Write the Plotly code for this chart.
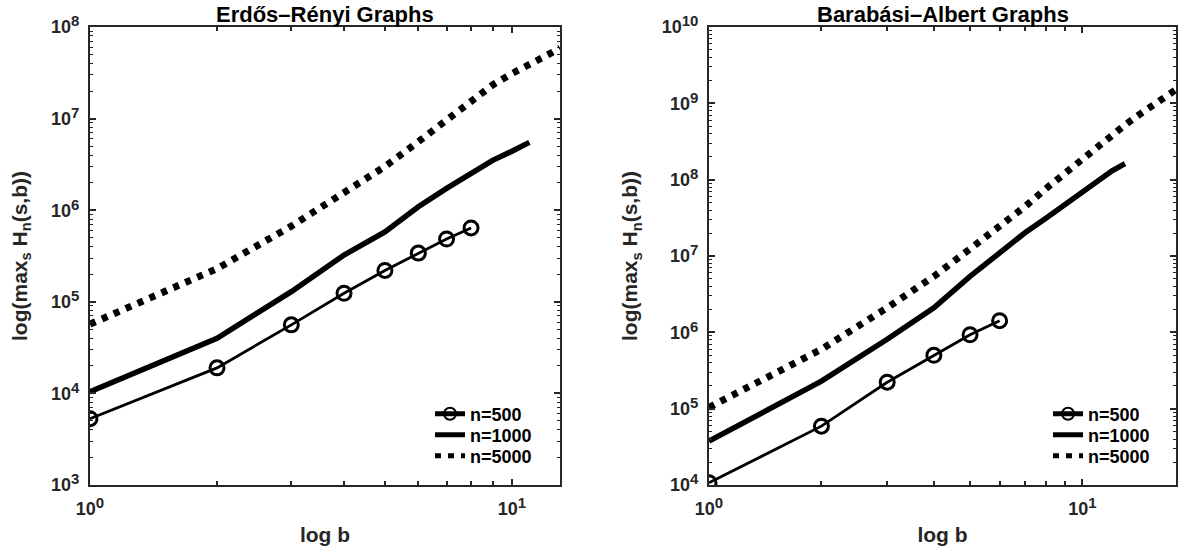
import math
import plotly.graph_objects as go

# ---------------- data ----------------
# Erdős–Rényi
b_er_500 = [1, 2, 3, 4, 5, 6, 7, 8]
h_er_500 = [5.3e3, 1.9e4, 5.6e4, 1.24e5, 2.2e5, 3.4e5, 4.85e5, 6.4e5]
b_er_1000 = [1, 2, 3, 4, 5, 6, 7, 8, 9, 10, 11]
h_er_1000 = [1.04e4, 4.0e4, 1.29e5, 3.24e5, 5.8e5, 1.09e6, 1.73e6, 2.48e6, 3.5e6, 4.4e6, 5.5e6]
b_er_5000 = [1, 2, 3, 4, 5, 6, 7, 8, 9, 10, 11, 12, 13]
h_er_5000 = [5.7e4, 2.3e5, 6.7e5, 1.53e6, 3.0e6, 5.6e6, 9.7e6, 1.56e7, 2.33e7, 3.1e7,
             4.0e7, 4.8e7, 5.9e7]

# Barabási–Albert
b_ba_500 = [1, 2, 3, 4, 5, 6]
h_ba_500 = [1.07e4, 5.9e4, 2.22e5, 5.0e5, 9.3e5, 1.42e6]
b_ba_1000 = [1, 2, 3, 4, 5, 6, 7, 8, 9, 10, 11, 12, 13]
h_ba_1000 = [3.75e4, 2.3e5, 8.1e5, 2.1e6, 5.4e6, 1.12e7, 2.0e7, 3.15e7, 4.8e7, 7.0e7,
             1.0e8, 1.31e8, 1.62e8]
b_ba_5000 = [1, 2, 3, 4, 5, 6, 7, 8, 9, 10, 11, 12, 13, 14, 15, 16, 17, 18]
h_ba_5000 = [1.04e5, 6.0e5, 2.1e6, 5.4e6, 1.24e7, 2.44e7, 4.4e7, 7.7e7, 1.24e8, 1.9e8,
             2.76e8, 3.85e8, 5.2e8, 6.8e8, 8.7e8, 1.07e9, 1.32e9, 1.57e9]

series_names = ["<b>n=500</b>", "<b>n=1000</b>", "<b>n=5000</b>"]
titles = ["Erdős–Rényi Graphs", "Barabási–Albert Graphs"]
x_label = "log b"
y_label = "log(max<sub>s</sub> H<sub>n</sub>(s,b))"

W, H = 1178, 558
FONT = "Liberation Sans, Arial, Helvetica, sans-serif"
AX = "#262626"

fig = go.Figure()


def add_panel(xa, ya, legs, b500, h500, b1000, h1000, b5000, h5000):
    fig.add_trace(go.Scatter(
        x=b500, y=h500, name=series_names[0], mode="lines+markers", showlegend=True,
        line=dict(color="black", width=2.8),
        marker=dict(symbol="circle-open", size=14, color="black", line=dict(width=3)),
        xaxis=xa, yaxis=ya, legend=legs[0]))
    fig.add_trace(go.Scatter(
        x=b1000, y=h1000, name=series_names[1], mode="lines", showlegend=True,
        line=dict(color="black", width=5.5),
        xaxis=xa, yaxis=ya, legend=legs[1]))
    fig.add_trace(go.Scatter(
        x=b5000, y=h5000, name=series_names[2], mode="lines", showlegend=True,
        line=dict(color="black", width=7, dash="6px,7px"),
        xaxis=xa, yaxis=ya, legend=legs[2]))


add_panel("x", "y", ["legend", "legend2", "legend3"],
          b_er_500, h_er_500, b_er_1000, h_er_1000, b_er_5000, h_er_5000)
add_panel("x2", "y2", ["legend4", "legend5", "legend6"],
          b_ba_500, h_ba_500, b_ba_1000, h_ba_1000, b_ba_5000, h_ba_5000)

tickfont = dict(family=FONT, size=18, color=AX)
labelfont = dict(family=FONT, size=21, color=AX)


def pow_label(k):
    return "<b>10<span style='font-size:15px;baseline-shift:45%'>" + str(k) + "</span></b>"


def minor_vals(lo, hi):
    return [m * 10 ** k for k in range(lo, hi) for m in range(2, 10)]


def xaxis_cfg(domain, xmax, anchor):
    return dict(
        type="log", domain=domain, range=[0, math.log10(xmax)], automargin=False,
        anchor=anchor, showgrid=False, zeroline=False,
        showline=True, linecolor=AX, linewidth=2, mirror="allticks",
        ticks="inside", ticklen=6, tickwidth=1.5, tickcolor=AX,
        tickvals=[1, 10], ticktext=[pow_label(0), pow_label(1)],
        tickfont=tickfont, ticklabelstandoff=6,
        minor=dict(ticks="inside", ticklen=4, tickwidth=1.5, tickcolor=AX,
                   tickvals=minor_vals(0, 2), showgrid=False),
        title=dict(text="<b>" + x_label + "</b>", font=labelfont, standoff=10),
    )


def yaxis_cfg(domain, lo, hi, anchor):
    return dict(
        type="log", domain=domain, range=[lo, hi], anchor=anchor, automargin=False,
        showgrid=False, zeroline=False,
        showline=True, linecolor=AX, linewidth=2, mirror="allticks",
        ticks="inside", ticklen=6, tickwidth=1.5, tickcolor=AX,
        tickvals=[10 ** k for k in range(lo, hi + 1)],
        ticktext=[pow_label(k) for k in range(lo, hi + 1)],
        tickfont=tickfont, ticklabelstandoff=5,
        minor=dict(ticks="inside", ticklen=3, tickwidth=1.2, tickcolor=AX,
                   tickvals=minor_vals(lo, hi), showgrid=False),
        title=dict(text="<b>" + y_label + "</b>", font=labelfont, standoff=18),
    )


ydom = [1 - 485 / H, 1 - 27 / H]
legfont = dict(family=FONT, size=18, color="black")


def leg(xtext, ycenter):
    return dict(x=(xtext - 42) / W, y=1 - ycenter / H, xanchor="left", yanchor="middle",
                bgcolor="rgba(0,0,0,0)", font=legfont, itemsizing="constant",
                tracegroupgap=0, itemwidth=30, visible=True)


fig.update_layout(
    width=W, height=H, showlegend=True,
    margin=dict(l=0, r=0, t=0, b=0, autoexpand=False),
    paper_bgcolor="white", plot_bgcolor="white",
    font=dict(family=FONT, color=AX),
    xaxis=xaxis_cfg([90 / W, 560 / W], 13, "y"),
    yaxis=yaxis_cfg(ydom, 3, 8, "x"),
    xaxis2=xaxis_cfg([709 / W, 1176 / W], 17.8, "y2"),
    yaxis2=yaxis_cfg(ydom, 4, 10, "x2"),
    legend=leg(472, 414),
    legend2=leg(472, 435),
    legend3=leg(472, 456),
    legend4=leg(1090, 414),
    legend5=leg(1090, 435),
    legend6=leg(1090, 456),
    annotations=[
        dict(text="<b>" + titles[0] + "</b>", x=(90 + 560) / 2 / W, y=1 - 14 / H,
             xref="paper", yref="paper", xanchor="center", yanchor="middle",
             showarrow=False, font=dict(family=FONT, size=22, color="black")),
        dict(text="<b>" + titles[1] + "</b>", x=(709 + 1177) / 2 / W, y=1 - 14 / H,
             xref="paper", yref="paper", xanchor="center", yanchor="middle",
             showarrow=False, font=dict(family=FONT, size=22, color="black")),
    ],
)

fig.write_html("out.html", config={"displayModeBar": False},
               post_script="document.body.style.margin='0px';")
